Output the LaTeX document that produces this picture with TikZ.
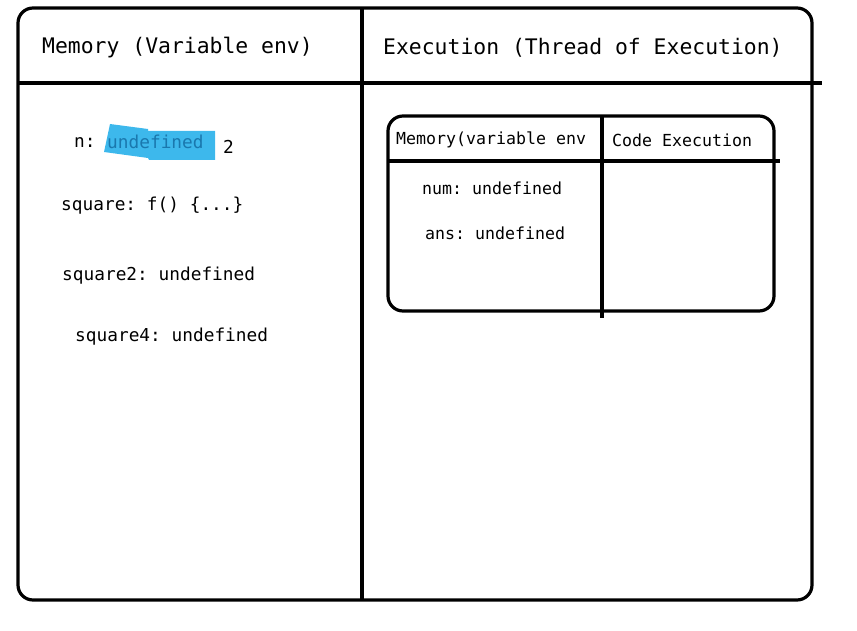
\documentclass[tikz,border=0pt]{standalone}
\usepackage{fontspec}
\setmonofont{DejaVu Sans Mono}
\usetikzlibrary{positioning}
\definecolor{hilite}{HTML}{3DB8EC}
\definecolor{hilitetext}{HTML}{1A78AE}
\tikzset{
  frame/.style={line width=3.2pt, rounded corners=15pt},
  rule/.style={line width=3.2pt},
  head/.style={font=\ttfamily\fontsize{21.4}{24}\selectfont, anchor=west, inner sep=0pt},
  entry/.style={font=\ttfamily\fontsize{17.8}{20}\selectfont, anchor=west, inner sep=0pt},
  cell/.style={font=\ttfamily\fontsize{16.6}{19}\selectfont, anchor=west, inner sep=0pt},
}
\begin{document}
\begin{tikzpicture}[x=1pt,y=-1pt]
        \useasboundingbox (0,0) rectangle (857,631);
        % outer frame
        \draw[frame] (18,8) rectangle (812,600);
        \draw[rule] (362,8) -- (362,600);
        \draw[rule] (18,83) -- (822,83);
        \node[head] (memhead) at (42,48) {Memory (Variable env)};
        \node[head] (exehead) at (383,48) {Execution (Thread of Execution)};
        % global memory
        \fill[hilite] (110,124) -- (148,129) -- (148,131) -- (215,131) -- (215,160) -- (149,160) -- (148,158) -- (104,152) -- cycle;
        \node[entry] (n) at (74,143) {n:};
        \node[entry, text=hilitetext] (nundef) at (107,142) {undefined};
        \node[entry, right=19pt of nundef.east, yshift=-5pt] (ntwo) {2};
        \node[entry] (sqf) at (61,206) {square: f() \{...\}};
        \node[entry, below=70pt of sqf.west, anchor=west, xshift=1pt] (sqtwo) {square2: undefined};
        \node[entry, below=61pt of sqtwo.west, anchor=west, xshift=13pt] (sqfour) {square4: undefined};
        % local execution context
        \draw[frame] (388,116) rectangle (774,311);
        \draw[rule] (388,161) -- (780,161);
        \draw[rule] (602,116) -- (602,318);
        \node[cell] (localmem) at (396,140) {Memory(variable env};
        \node[cell] (localcode) at (612,140) {Code Execution};
        \node[cell] (num) at (422,188) {num: undefined};
        \node[cell, below=45pt of num.west, anchor=west, xshift=3pt] (ans) {ans: undefined};
\end{tikzpicture}
\end{document}
